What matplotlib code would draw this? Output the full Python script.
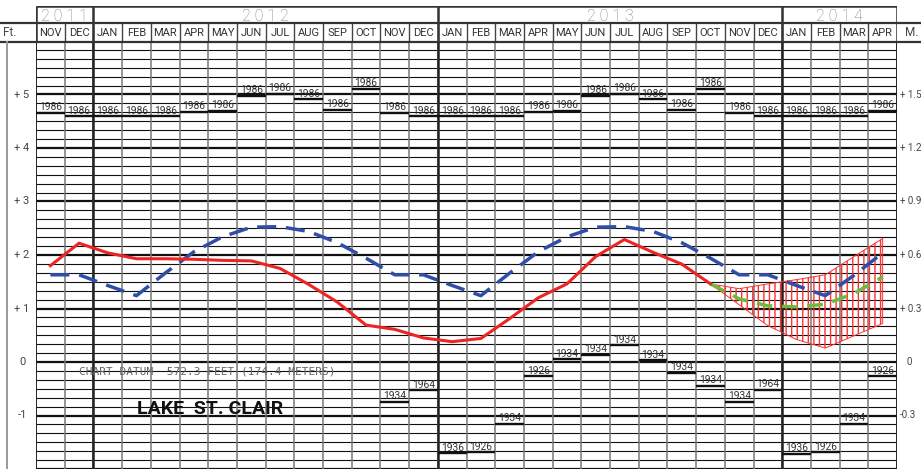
import matplotlib
matplotlib.use("Agg")
import matplotlib.pyplot as plt
from matplotlib.lines import Line2D

W, H = 921, 469

# ---- chart data (feet above chart datum) ----
months = ['NOV', 'DEC',
          'JAN', 'FEB', 'MAR', 'APR', 'MAY', 'JUN', 'JUL', 'AUG', 'SEP', 'OCT', 'NOV', 'DEC',
          'JAN', 'FEB', 'MAR', 'APR', 'MAY', 'JUN', 'JUL', 'AUG', 'SEP', 'OCT', 'NOV', 'DEC',
          'JAN', 'FEB', 'MAR', 'APR']
years = ['2011', '2012', '2013', '2014']
year_months = [2, 12, 12, 4]

# recorded monthly mean levels, NOV 2011 - OCT 2013
recorded = [1.80, 2.22, 2.04, 1.93, 1.93, 1.92, 1.90, 1.89, 1.75, 1.45, 1.12, 0.69,
            0.61, 0.45, 0.38, 0.44, 0.81, 1.20, 1.46, 1.97, 2.29, 2.05, 1.83, 1.46]

# long term average, NOV 2011 - APR 2014
lt_average = [1.63, 1.63, 1.43, 1.24, 1.66, 2.06, 2.34, 2.52, 2.53, 2.44, 2.23, 1.94,
              1.63, 1.63, 1.43, 1.24, 1.66, 2.06, 2.34, 2.52, 2.53, 2.44, 2.23, 1.94,
              1.63, 1.63, 1.43, 1.24, 1.62, 2.04]

# forecast OCT 2013 - APR 2014
fc_start = 23
fc_probable = [1.46, 1.18, 1.05, 1.03, 1.08, 1.28, 1.59]
fc_high = [1.46, 1.37, 1.46, 1.54, 1.63, 1.97, 2.31]
fc_low = [1.46, 1.07, 0.68, 0.42, 0.26, 0.49, 0.72]

# record highs for every month shown
rec_high = [4.66, 4.59, 4.59, 4.59, 4.59, 4.67, 4.69, 4.98, 5.01, 4.91, 4.71, 5.10,
            4.66, 4.59, 4.59, 4.59, 4.59, 4.67, 4.69, 4.98, 5.01, 4.91, 4.71, 5.10,
            4.66, 4.59, 4.59, 4.59, 4.59, 4.70]
rec_high_year = ['1986'] * 30

# record lows, shown from NOV 2012
low_start = 12
rec_low = [-0.74, -0.53, -1.71, -1.69, -1.16, -0.27, 0.05, 0.14, 0.31, 0.03, -0.21, -0.45,
           -0.74, -0.52, -1.72, -1.69, -1.16, -0.27]
rec_low_year = ['1934', '1964', '1936', '1926', '1934', '1926', '1934', '1934', '1934',
                '1934', '1934', '1934', '1934', '1964', '1936', '1926', '1934', '1926']

ft_ticks = [5, 4, 3, 2, 1, 0, -1]
ft_labels = ['+ 5', '+ 4', '+ 3', '+ 2', '+ 1', '0', '-1']
m_labels = ['+ 1.5', '+ 1.2', '+ 0.9', '+ 0.6', '+ 0.3', '0', '-0.3']

narrow = ['Roboto', 'DejaVu Sans']

fig = plt.figure(figsize=(W / 100, H / 100), dpi=100)
fig.patch.set_facecolor('white')

# main grid axes: x 36..897 px, y 41..469 px
ax = fig.add_axes([36 / W, 0, 861 / W, 428 / H])
ax.set_xlim(0, 30)
ax.set_ylim(-2, 6)
ax.axis('off')

for k in range(-12, 37):
    major = k % 6 == 0
    ax.axhline(k / 6, color='#111111', lw=1.6 if major else 0.8, zorder=1)
for i in range(1, 30):
    ax.axvline(i, color='#777777', lw=1.1, zorder=1)
for i in [2, 14, 26]:
    ax.axvline(i, color='#222222', lw=1.8, zorder=1)
ax.axvline(0, color='#222222', lw=1.4, zorder=1)
ax.axvline(30, color='#222222', lw=1.4, zorder=1)

# record highs / lows
for i, (v, yr) in enumerate(zip(rec_high, rec_high_year)):
    ax.hlines(v, i, i + 1, color='#111111', lw=1.7, zorder=3)
    ax.annotate(yr, (i + 0.5, v), xytext=(0, 2), textcoords='offset points',
                ha='center', va='baseline', fontsize=7.4, family=narrow, color='#333333')
for j, (v, yr) in enumerate(zip(rec_low, rec_low_year)):
    i = low_start + j
    ax.hlines(v, i, i + 1, color='#111111', lw=1.7, zorder=3)
    ax.annotate(yr, (i + 0.5, v), xytext=(0, 2), textcoords='offset points',
                ha='center', va='baseline', fontsize=7.4, family=narrow, color='#333333')

# forecast range
xf = [fc_start + 0.5 + k for k in range(len(fc_high))]
ax.fill_between(xf, fc_low, fc_high, facecolor='none', edgecolor='#ff3030',
                hatch='|||', linewidth=0.7, zorder=2)

x_rec = [k + 0.5 for k in range(len(recorded))]
x_avg = [k + 0.5 for k in range(len(lt_average))]
ax.plot(x_avg, lt_average, color='#2f4ea8', lw=2.5, dashes=(5.5, 2.8), zorder=4)
ax.plot(xf, fc_probable, color='#6cbc3c', lw=2.5, dashes=(4.5, 2.8), zorder=4)
ax.plot(x_rec, recorded, color='#ee2424', lw=2.2, zorder=5, solid_joinstyle='miter')

ax.text(1.5, -0.18, 'CHART DATUM  572.3 FEET (174.4 METERS)', family='DejaVu Sans Mono',
        fontsize=8, color='#666666', va='center', ha='left', zorder=6)
ax.text(3.52, -0.87, 'LAKE  ST. CLAIR', family=narrow, fontweight='bold',
        fontsize=14, color='#111111', va='center', ha='left', zorder=6)

# axis labels outside grid
for t, lf, lm in zip(ft_ticks, ft_labels, m_labels):
    yy = (362 - t * 53.5) / H
    fig.text(22 / W, 1 - yy, lf, ha='center', va='center', fontsize=8,
             family=narrow, color='#444444')
    fig.text((909 if lm == '0' else 900) / W, 1 - yy, lm,
             ha='center' if lm == '0' else 'left',
             va='center', fontsize=7, family=narrow, color='#444444')

# header: y 6..42 px
hax = fig.add_axes([36 / W, (H - 42) / H, 861 / W, 36 / H])
hax.set_xlim(0, 30)
hax.set_ylim(0, 36)
hax.axis('off')
for i in range(1, 30):
    hax.vlines(i, 0, 19, color='#444444', lw=1.0)
pos = 0
for yr, n in zip(years, year_months):
    hax.vlines(pos, 0, 36, color='#333333', lw=1.8)
    hax.text(pos + n / 2, 27.0, ' '.join(yr), ha='center', va='center_baseline',
             fontsize=11.5, family=narrow, fontweight='light', color='#808080')
    pos += n
hax.vlines(30, 0, 36, color='#333333', lw=1.8)
hax.hlines(36, 0, 30, color='#333333', lw=1.8)
for i, m in enumerate(months):
    hax.text(i + 0.5, 9.5, m, ha='center', va='center', fontsize=8, family=narrow,
             color='#333333')

fig.add_artist(Line2D([0, 1], [1 - 23 / H] * 2, transform=fig.transFigure,
                      color='#333333', lw=1.6))
fig.add_artist(Line2D([0, 1], [1 - 42 / H] * 2, transform=fig.transFigure,
                      color='#333333', lw=1.6))
fig.add_artist(Line2D([7 / W] * 2, [0, 1 - 42 / H], transform=fig.transFigure,
                      color='#999999', lw=1.4))
fig.text(3 / W, 1 - 32 / H, 'Ft.', ha='left', va='center', fontsize=8.5, family=narrow,
         color='#444444')
fig.text(905 / W, 1 - 32 / H, 'M.', ha='left', va='center', fontsize=8.5, family=narrow,
         color='#444444')

fig.savefig('out.png', dpi=100)
